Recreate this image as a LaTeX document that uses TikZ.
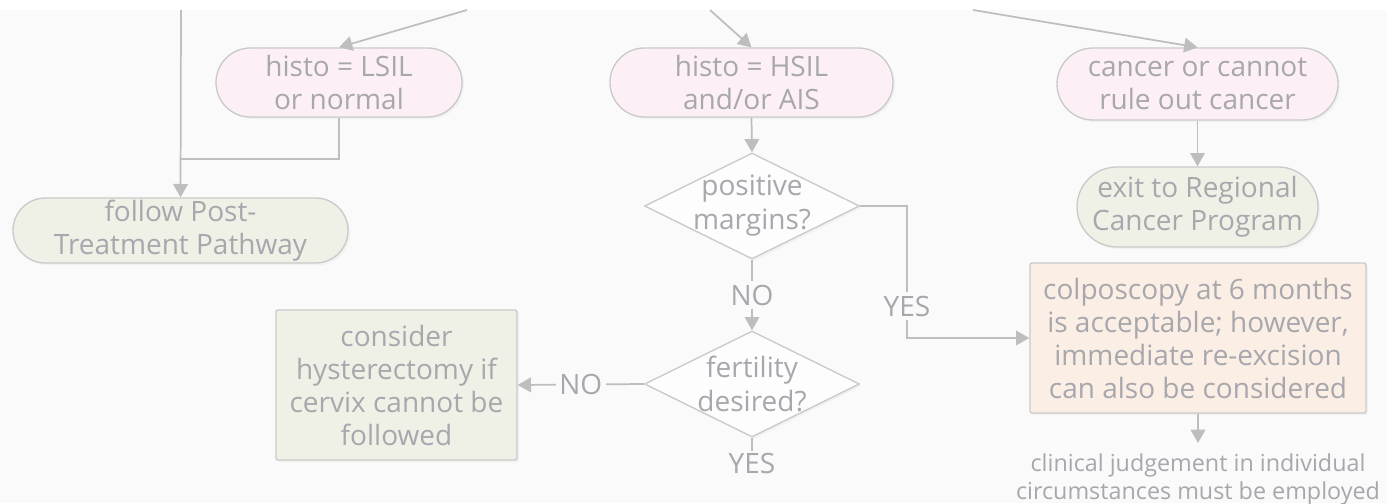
\documentclass[tikz,border=0pt]{standalone}
\usepackage{fontspec}
\setmainfont{Open Sans}
\usetikzlibrary{shapes.geometric,arrows.meta,shadows}
\definecolor{bg}{HTML}{FAFAFA}
\definecolor{ln}{HTML}{BEBEBE}
\definecolor{bd}{HTML}{CACACA}
\definecolor{tx}{HTML}{A7A7AD}
\definecolor{pk}{HTML}{FCF0F6}
\definecolor{gr}{HTML}{EFF1E7}
\definecolor{pc}{HTML}{FBEEE4}
\begin{document}
\begin{tikzpicture}[x=0.75pt,y=-0.75pt,
  base/.style={draw=bd, line width=1pt, text=tx, align=center,
    font=\fontsize{21}{24.75}\selectfont, inner sep=0pt,
    drop shadow={opacity=0.07, shadow xshift=1.5pt, shadow yshift=-1.5pt}},
  pill/.style={base, rectangle},
  boxnode/.style={base, rectangle, rounded corners=1.5pt},
  dia/.style={base, diamond, fill=white!60!bg},
  dtext/.style={text=tx, align=center, font=\fontsize{21}{25.5}\selectfont, inner sep=0pt},
  lbl/.style={text=tx, fill=bg, font=\fontsize{21}{24}\selectfont, inner sep=2.5pt},
  note/.style={text=tx, align=center, font=\fontsize{17.5}{20.5}\selectfont, inner xsep=0pt, inner ysep=8pt},
  conn/.style={draw=ln, line width=1.3pt},
  arr/.style={conn, -{Triangle[length=10pt,width=11pt]}}]
\useasboundingbox (0,0) rectangle (1387,503);
\fill[white] (0,0) rectangle (1387,503);
\fill[bg] (0,10) rectangle (1387,503);

% top row
\node[pill, fill=pk, minimum width=184.5pt, minimum height=51.75pt, rounded corners=25.8pt] (lsil) at (339,82.5) {histo = LSIL\\or normal};
\node[pill, fill=pk, minimum width=212.25pt, minimum height=51.75pt, rounded corners=25.8pt] (hsil) at (751.5,82.5) {histo = HSIL\\and/or AIS};
\node[pill, fill=pk, minimum width=210.75pt, minimum height=54pt, rounded corners=27pt] (canc) at (1197.5,84) {cancer or cannot\\rule out cancer};

% second row
\node[pill, fill=gr, minimum width=251.25pt, minimum height=48.75pt, rounded corners=24.3pt] (follow) at (180.5,230.5) {follow Post-\\Treatment Pathway};
\node[pill, fill=gr, minimum width=180.75pt, minimum height=60pt, rounded corners=30pt] (exit) at (1197.5,207) {exit to Regional\\Cancer Program};

% decisions
\node[dia, minimum width=161.25pt, minimum height=79.5pt] (d1) at (752,206) {};
\node[dtext] at (d1) {positive\\margins?};
\node[dia, minimum width=161.25pt, minimum height=79.5pt] (d2) at (752,384) {};
\node[dtext] at (d2) {fertility\\desired?};

% boxes
\node[boxnode, fill=gr, minimum width=180.75pt, minimum height=112.5pt] (cons) at (396.5,385) {consider\\hysterectomy if\\cervix cannot be\\followed};
\node[boxnode, fill=pc, minimum width=252pt, minimum height=112.5pt] (col) at (1198,338) {colposcopy at 6 months\\is acceptable; however,\\immediate re-excision\\can also be considered};
\node[note, anchor=north] (clin) at (1198,443) {clinical judgement in individual\\circumstances must be employed};

% free ends at the top edge
\coordinate (t0) at (181,10);
\coordinate (t1) at (467,10);
\coordinate (t2) at (710,10);
\coordinate (t3) at (973,10);
\coordinate (jn) at (181,159);
\coordinate (yc) at (907,338);

% connectors
\draw[arr] (t0) -- (follow.north);
\draw[arr] (t1) -- (lsil.north);
\draw[arr] (t2) -- (hsil.north);
\draw[arr] (t3) -- (canc.north);
\draw[conn] (lsil.south) |- (jn);
\draw[arr] (hsil.south) -- (d1.north);
\draw[arr] (canc.south) -- (exit.north);
\draw[arr] (d1.south) -- node[lbl] (nolbl) {NO} (d2.north);
\draw[arr] (d1.east) -| (yc) -- (col.west);
\node[lbl] (yeslbl) at (907,306) {YES};
\draw[arr] (d2.west) -- node[lbl] (nolbl2) {NO} (cons.east);
\node[lbl, inner sep=1pt] (yesb) at (752,463) {YES};
\draw[conn] (d2.south) -- (yesb.north);
\draw[arr] (col.south) -- (clin.north);
\end{tikzpicture}
\end{document}
